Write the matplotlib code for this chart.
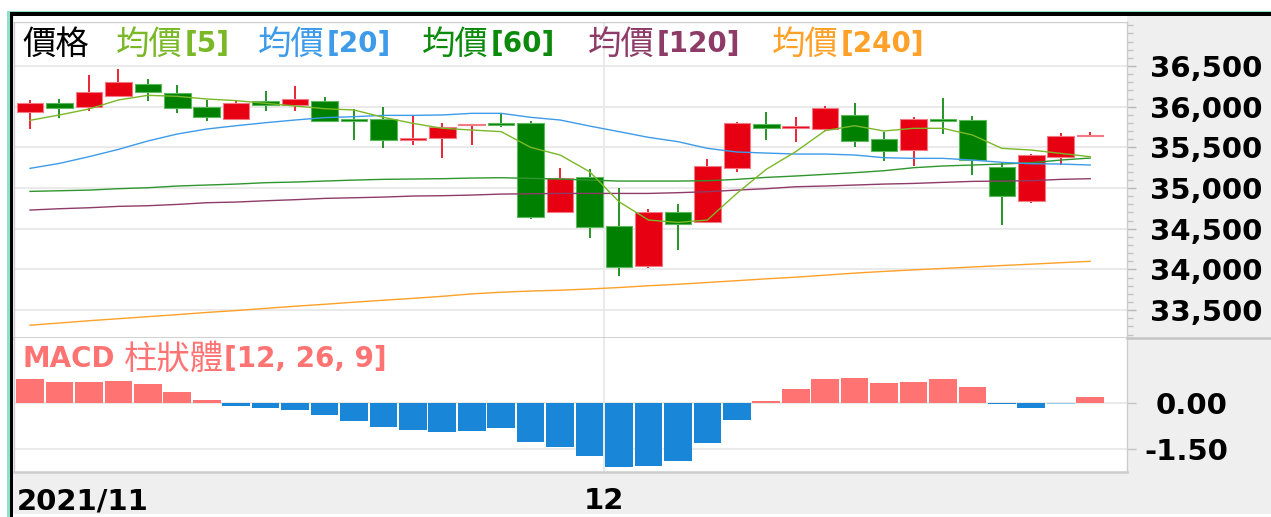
import matplotlib
matplotlib.use("Agg")
import matplotlib.pyplot as plt
from matplotlib.patches import Rectangle
from matplotlib.lines import Line2D
from matplotlib.ticker import MultipleLocator
import numpy as np

W, H = 1271, 517

# daily candles, 2021/11 .. 2021/12
opens = [35930, 36049, 36000, 36131, 36279, 36168, 35996, 35844, 36066, 36020,
         36066, 35836, 35852, 35594, 35619, 35770, 35795, 35803, 34709, 35135,
         34532, 34045, 34704, 34586, 35242, 35783, 35742, 35729, 35893, 35598,
         35467, 35840, 35832, 35258, 34844, 35385, 35639]
highs = [36082, 36090, 36390, 36459, 36336, 36266, 36082, 36074, 36193, 36254,
         36119, 35967, 35996, 35889, 35803, 35783, 35910, 35824, 35250, 35238,
         34996, 34737, 34803, 35356, 35816, 35939, 35877, 36008, 36041, 35692,
         35869, 36111, 35885, 35324, 35422, 35672, 35692]
lows = [35729, 35865, 35947, 36131, 36070, 35918, 35824, 35844, 35947, 35947,
        35816, 35590, 35488, 35529, 35365, 35529, 35754, 34622, 34709, 34381,
        33917, 34012, 34237, 34573, 35201, 35590, 35570, 35705, 35508, 35336,
        35270, 35664, 35160, 34545, 34820, 35278, 35631]
closes = [36041, 35988, 36176, 36299, 36180, 35980, 35869, 36041, 36016, 36090,
          35824, 35828, 35590, 35611, 35746, 35783, 35779, 34639, 35127, 34516,
          34028, 34704, 34557, 35270, 35795, 35734, 35750, 35984, 35578, 35459,
          35844, 35828, 35344, 34902, 35410, 35643, 35656]

# moving averages
ma5 = [35832, 35898, 35971, 36082, 36139, 36127, 36094, 36074, 36041, 36008,
       35975, 35959, 35869, 35795, 35734, 35713, 35693, 35500, 35406, 35201,
       34832, 34607, 34578, 34607, 34934, 35230, 35447, 35705, 35766, 35701,
       35734, 35734, 35652, 35488, 35467, 35426, 35385]
ma20 = [35242, 35303, 35385, 35475, 35578, 35664, 35725, 35766, 35803, 35836,
        35865, 35877, 35893, 35893, 35898, 35918, 35918, 35869, 35836, 35762,
        35693, 35623, 35570, 35488, 35443, 35430, 35418, 35418, 35406, 35373,
        35365, 35365, 35344, 35316, 35299, 35295, 35283]
ma60 = [34959, 34967, 34975, 34992, 35004, 35025, 35037, 35049, 35066, 35074,
        35086, 35098, 35107, 35111, 35115, 35123, 35127, 35119, 35111, 35098,
        35086, 35086, 35086, 35090, 35107, 35131, 35148, 35168, 35189, 35213,
        35250, 35271, 35283, 35295, 35311, 35344, 35369]
ma120 = [34730, 34746, 34758, 34775, 34783, 34799, 34820, 34828, 34844, 34857,
         34873, 34881, 34889, 34902, 34906, 34914, 34926, 34930, 34934, 34934,
         34934, 34934, 34943, 34955, 34975, 34992, 35016, 35025, 35037, 35049,
         35057, 35070, 35082, 35086, 35090, 35107, 35115]
ma240 = [33315, 33342, 33370, 33395, 33420, 33445, 33472, 33495, 33522, 33548,
         33572, 33598, 33622, 33645, 33670, 33700, 33720, 33735, 33745, 33760,
         33778, 33800, 33818, 33840, 33862, 33885, 33905, 33930, 33955, 33976,
         33995, 34012, 34030, 34048, 34065, 34083, 34100]

macd_hist = [0.75, 0.68, 0.68, 0.70, 0.60, 0.35, 0.09, -0.10, -0.18, -0.24,
             -0.40, -0.58, -0.77, -0.87, -0.93, -0.90, -0.80, -1.25, -1.44, -1.71,
             -2.07, -2.03, -1.87, -1.31, -0.55, 0.06, 0.44, 0.76, 0.79, 0.65,
             0.68, 0.76, 0.49, -0.05, -0.16, -0.05, 0.17]

price_ticks = [33500, 34000, 34500, 35000, 35500, 36000, 36500]
macd_ticks = [-1.5, 0.0]
month_labels = ["2021/11", "12"]
month_first = [0, 20]   # index of first candle in each month

# colours
RED, GREEN = "#e60012", "#008000"
RED_EDGE, GREEN_EDGE = "#f27a85", "#5cb85c"
C5, C20, C60, C120, C240 = "#7ab828", "#3d9be9", "#2e962e", "#8e3b68", "#ffa028"
HIST_UP, HIST_DN, HIST_LIGHT = "#ff7373", "#1a86d8", "#8fcfea"
GRID = "#e8e8e8"
CJK = ["Noto Sans CJK TC", "DejaVu Sans"]


def fx(px):
    return px / W


def fy(py):
    return 1 - py / H


def px_rect(x0, y0, x1, y1, color, z=5):
    fig.add_artist(Rectangle((fx(x0), fy(y1)), (x1 - x0) / W, (y1 - y0) / H,
                             transform=fig.transFigure, facecolor=color,
                             edgecolor="none", zorder=z))


fig = plt.figure(figsize=(W / 100, H / 100), dpi=100, facecolor="#efefef")
ax = fig.add_axes([fx(14), fy(338), fx(1127) - fx(14), fy(22) - fy(338)])
ax2 = fig.add_axes([fx(14), fy(472), fx(1127) - fx(14), fy(338) - fy(472)], sharex=ax)

n = len(opens)
x = np.arange(n)
o, h, l, c = map(np.array, (opens, highs, lows, closes))
up = c >= o

# ---- candles
ax.vlines(x, l, h, colors=np.where(up, RED, GREEN), lw=1.2, zorder=3)
body_bottom = np.minimum(o, c)
body_h = np.maximum(np.abs(c - o), 18)
ax.bar(x, body_h, bottom=body_bottom, width=0.9,
       color=np.where(up, RED, GREEN), edgecolor=np.where(up, RED_EDGE, GREEN_EDGE),
       lw=0.8, zorder=4)

for vals, col in [(ma240, C240), (ma120, C120), (ma60, C60), (ma20, C20), (ma5, C5)]:
    ax.plot(x, vals, color=col, lw=1.0, zorder=5)

# ---- MACD histogram
hist = np.array(macd_hist)
hcol = np.where(hist >= 0, HIST_UP, HIST_DN).astype(object)
hcol[35] = HIST_LIGHT
ax2.bar(x, hist, width=0.94, color=list(hcol), edgecolor="none", zorder=3)

# ---- axes styling
xmin, xmax = (14 - 30) / 29.45, (1127 - 30) / 29.45
ax.set_xlim(xmin, xmax)
ax.set_ylim(33158, 37040)
ax2.set_ylim(-2.23, 2.083)

for a in (ax, ax2):
    a.set_facecolor("white")
    a.set_axisbelow(True)
    a.grid(axis="y", color=GRID, lw=1.3)
    for sp in a.spines.values():
        sp.set_color("#cccccc")
        sp.set_linewidth(1.0)
    a.axvline(month_first[1] - 0.5, color=GRID, lw=1.3, zorder=0)
    a.yaxis.tick_right()
ax.spines["bottom"].set_linewidth(1.8)
ax.spines["bottom"].set_color("#c4c4c4")
ax2.spines["top"].set_visible(False)
ax2.spines["bottom"].set_linewidth(1.8)

ax.set_yticks(price_ticks, [f"{v:,}" for v in price_ticks])
ax.yaxis.set_minor_locator(MultipleLocator(100))
ax.tick_params(axis="y", which="major", length=6.5, width=1, color="#b8b8b8",
               pad=90.7, labelsize=21)
ax.tick_params(axis="y", which="minor", length=4.3, width=1, color="#c4c4c4")
ax.tick_params(axis="x", which="both", bottom=False, labelbottom=False)

ax2.set_yticks(macd_ticks, [f"{v:.2f}" for v in macd_ticks])
ax2.tick_params(axis="y", length=6.5, width=1, color="#c4c4c4", pad=66.2, labelsize=21)

ax2.set_xticks([xmin + 0.1, month_first[1] - 0.5], month_labels)
ax2.tick_params(axis="x", length=0, pad=11, labelsize=21)

for lab in ax.get_yticklabels() + ax2.get_yticklabels():
    lab.set_horizontalalignment("right")
for lab in ax.get_yticklabels() + ax2.get_yticklabels() + ax2.get_xticklabels():
    lab.set_fontweight("bold")
    lab.set_family("DejaVu Sans")
ax2.get_xticklabels()[0].set_horizontalalignment("left")

# ---- legend text
ax.text(fx(22), fy(44), "價格", transform=fig.transFigure, family=CJK,
        fontsize=24, color="black", va="center", ha="left")
for x0, lab, col in [(116, "[5]", C5), (258, "[20]", C20), (422, "[60]", "#0b8a0b"),
                     (588, "[120]", C120), (772, "[240]", C240)]:
    t = ax.text(fx(x0), fy(44), "均價", transform=fig.transFigure, family=CJK,
                fontsize=24, color=col, va="center", ha="left")
    ax.annotate(lab, xy=(1, 0.5), xycoords=t, xytext=(1, 0), textcoords="offset points",
                va="center", ha="left", fontsize=20, fontweight="bold", color=col,
                family="DejaVu Sans", annotation_clip=False)

t = ax2.text(fx(22), fy(359), "MACD", transform=fig.transFigure, fontsize=20,
             fontweight="bold", color=HIST_UP, va="center", ha="left")
t2 = ax2.annotate("柱狀體", xy=(1, 0.5), xycoords=t, xytext=(7, 0),
                  textcoords="offset points", va="center", ha="left",
                  fontsize=24, color=HIST_UP, family=CJK, annotation_clip=False)
ax2.annotate("[12, 26, 9]", xy=(1, 0.5), xycoords=t2, va="center", ha="left",
             fontsize=20, fontweight="bold", color=HIST_UP, family="DejaVu Sans",
             annotation_clip=False)

# ---- frame around the chart
px_rect(0, 0, W, 10.5, "white")
px_rect(0, 0, 7, H, "white")
px_rect(13, 514, W, H, "white")
px_rect(14, 15.5, 1127, 22, "white")
px_rect(7, 10.5, W, 12.5, "#8fe0c8")
px_rect(7, 10.5, 9.5, H, "#8fe0c8")
px_rect(9.5, 12.5, W, 15.5, "black", z=6)
px_rect(9.5, 12.5, 13, H, "black", z=6)
fig.add_artist(Line2D([fx(1127), 1], [fy(338), fy(338)], transform=fig.transFigure,
                      color="#c4c4c4", lw=1.8))

fig.savefig("out.png", dpi=100, facecolor=fig.get_facecolor())
